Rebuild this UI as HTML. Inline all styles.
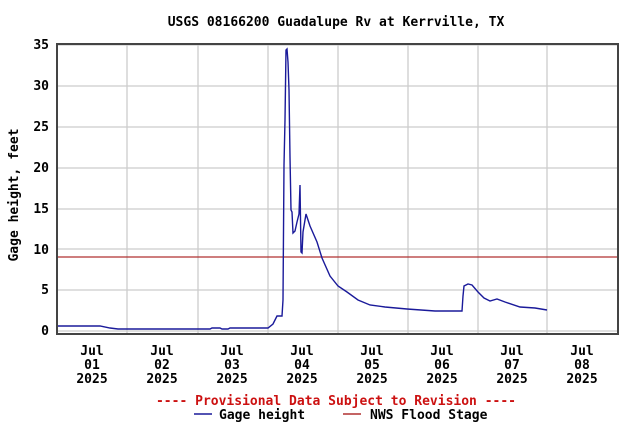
<!DOCTYPE html>
<html><head><style>
body{margin:0;background:#fff;}
svg text{font-family:"DejaVu Sans Mono","Liberation Mono",monospace;font-weight:bold;font-size:13px;fill:#000;}
</style></head><body>
<svg width="642" height="428" xmlns="http://www.w3.org/2000/svg">
<rect width="642" height="428" fill="#fff"/>
<text x="336" y="26" text-anchor="middle">USGS 08166200 Guadalupe Rv at Kerrville, TX</text>
<g stroke="#ccc" stroke-width="1.3">
<line x1="57" x2="618" y1="45" y2="45"/><line x1="57" x2="618" y1="86" y2="86"/>
<line x1="57" x2="618" y1="127" y2="127"/><line x1="57" x2="618" y1="168" y2="168"/>
<line x1="57" x2="618" y1="209" y2="209"/><line x1="57" x2="618" y1="249" y2="249"/>
<line x1="57" x2="618" y1="290" y2="290"/><line x1="57" x2="618" y1="331" y2="331"/>
<line x1="127" x2="127" y1="44" y2="334"/><line x1="198" x2="198" y1="44" y2="334"/>
<line x1="268" x2="268" y1="44" y2="334"/><line x1="338" x2="338" y1="44" y2="334"/>
<line x1="408" x2="408" y1="44" y2="334"/><line x1="478" x2="478" y1="44" y2="334"/>
<line x1="547" x2="547" y1="44" y2="334"/>
</g>
<line x1="57" x2="618" y1="257" y2="257" stroke="#b03030" stroke-width="1.3"/>
<polyline fill="none" stroke="#1a1a9a" stroke-width="1.4" points="57,326 100,326 110,328 118,329 210,329 212,328 220,328 222,329 228,329 230,328 268,328 273,324 277,316 282,316 283,300 284,165 285,120 286,50 287,49 288,62 289,90 290,157 291,210 292,212 293,233 295,231 297,222 298,218 299,214 300,185 301,252 302,253 303,232 306,214 310,226 317,242 322,258 330,276 338,286 347,292 358,300 370,305 385,307 407,309 435,311 462,311 463,296 464,286 468,284 472,285 478,292 484,298 490,301 497,299 505,302 520,307 535,308 547,310"/>
<rect x="57" y="44" width="561" height="290" fill="none" stroke="#444" stroke-width="2"/>
<g text-anchor="end">
<text x="49" y="49">35</text><text x="49" y="90">30</text><text x="49" y="131">25</text>
<text x="49" y="172">20</text><text x="49" y="213">15</text><text x="49" y="254">10</text>
<text x="49" y="294">5</text><text x="49" y="335">0</text>
</g>
<text transform="translate(18,195) rotate(-90)" text-anchor="middle">Gage height, feet</text>
<g text-anchor="middle">
<text x="92" y="355">Jul</text><text x="92" y="369">01</text><text x="92" y="383">2025</text>
<text x="162" y="355">Jul</text><text x="162" y="369">02</text><text x="162" y="383">2025</text>
<text x="232" y="355">Jul</text><text x="232" y="369">03</text><text x="232" y="383">2025</text>
<text x="302" y="355">Jul</text><text x="302" y="369">04</text><text x="302" y="383">2025</text>
<text x="372" y="355">Jul</text><text x="372" y="369">05</text><text x="372" y="383">2025</text>
<text x="442" y="355">Jul</text><text x="442" y="369">06</text><text x="442" y="383">2025</text>
<text x="512" y="355">Jul</text><text x="512" y="369">07</text><text x="512" y="383">2025</text>
<text x="582" y="355">Jul</text><text x="582" y="369">08</text><text x="582" y="383">2025</text>
</g>
<text x="336" y="405" text-anchor="middle" style="fill:#cc1111">---- Provisional Data Subject to Revision ----</text>
<line x1="194" x2="212" y1="414" y2="414" stroke="#1a1a9a" stroke-width="1.4"/>
<text x="219" y="419">Gage height</text>
<line x1="343" x2="361" y1="414" y2="414" stroke="#b03030" stroke-width="1.4"/>
<text x="370" y="419">NWS Flood Stage</text>
</svg>
</body></html>
